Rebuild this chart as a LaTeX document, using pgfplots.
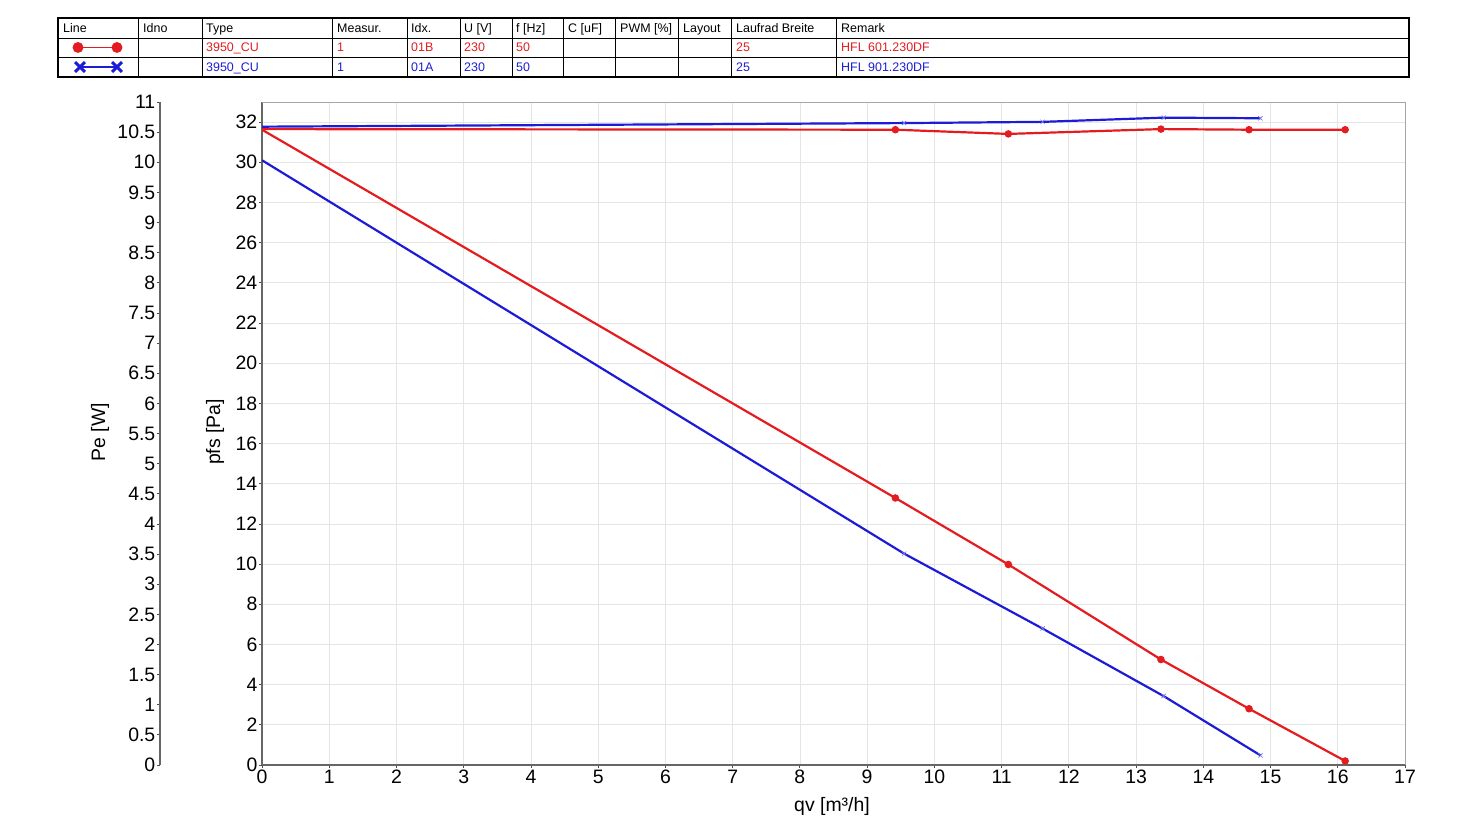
\documentclass[border=0pt]{standalone}
\usepackage{fontspec}
\setmainfont{Liberation Sans}
\usepackage{pgfplots}
\pgfplotsset{compat=1.18}
\definecolor{cred}{RGB}{228,28,32}
\definecolor{cblue}{RGB}{28,28,215}
\definecolor{cbluel}{RGB}{120,120,235}
\newcommand{\tf}{\fontsize{12.5}{14}\selectfont}
\newcommand{\af}{\fontsize{19.5}{21}\selectfont}
\begin{document}
\begin{tikzpicture}[x=1bp,y=1bp]
\path[use as bounding box] (0,0) rectangle (1470,838);
% ---------- header table ----------
\draw[line width=0.8bp] (58,800) -- (1409,800);
\draw[line width=0.8bp] (58,781) -- (1409,781);
\foreach \xx in {138,202,332,407,460,512,563,615,678,731,836}{
  \draw[line width=0.8bp] (\xx,761) -- (\xx,820);
}
\draw[line width=1.6bp] (58,761) rectangle (1409,820);
\foreach \xx/\tt in {63/Line,143/Idno,206/Type,337/Measur.,411/Idx.,464/U [V],516/f [Hz],568/C [uF],620/PWM [\%],683/Layout,736/Laufrad Breite,841/Remark}{
  \node[anchor=base west, inner sep=0, font=\tf] at (\xx,805.5) {\tt};
}
\foreach \xx/\tt in {206/3950\_CU,337/1,411/01B,464/230,516/50,736/25,841/HFL 601.230DF}{
  \node[anchor=base west, inner sep=0, font=\tf, text=cred] at (\xx,786) {\tt};
}
\foreach \xx/\tt in {206/3950\_CU,337/1,411/01A,464/230,516/50,736/25,841/HFL 901.230DF}{
  \node[anchor=base west, inner sep=0, font=\tf, text=cblue] at (\xx,766.5) {\tt};
}
% legend glyphs
\begin{axis}[at={(78bp,790.5bp)}, anchor=origin, scale only axis, width=39bp, height=10bp,
  hide axis, xmin=0, xmax=1, ymin=-1, ymax=1, clip=false]
\addplot[cred, line width=1.8bp, mark=*, mark size=4.5bp] coordinates {(0,0) (1,0)};
\end{axis}
\begin{axis}[at={(80bp,771bp)}, anchor=origin, scale only axis, width=37bp, height=10bp,
  hide axis, xmin=0, xmax=1, ymin=-1, ymax=1, clip=false]
\addplot[cblue, line width=1.8bp, mark=x, mark size=7bp, mark options={line width=3bp}] coordinates {(0,0) (1,0)};
\end{axis}
% ---------- main pfs axis ----------
\begin{axis}[at={(262bp,73bp)}, anchor=south west, scale only axis,
  width=1143bp, height=663bp,
  xmin=0, xmax=17, ymin=0, ymax=33,
  xtick={0,...,17}, ytick={0,2,...,32},
  axis x line*=bottom, axis y line*=left,
  grid=major, grid style={color=black!10, line width=0.7bp},
  axis line style={color=black!60, line width=1.2bp},
  tick align=outside, major tick length=3bp,
  tick style={color=black!70, line width=0.8bp},
  ticklabel style={font=\af},
  /pgf/number format/assume math mode=true,
  yticklabel style={inner sep=1.5bp},
  xticklabel style={inner sep=2bp},
  after end axis/.code={\draw[black!35, line width=0.9bp] (rel axis cs:0,1) -- (rel axis cs:1,1) -- (rel axis cs:1,0);}]
\addplot[cred, line width=2.2bp, mark=*, mark size=2.6bp, mark indices={2,3,4,5,6}]
  coordinates {(0,31.62) (9.42,13.29) (11.10,9.98) (13.37,5.25) (14.68,2.80) (16.11,0.20)};
\addplot[cblue, line width=2.2bp, mark=x, mark size=3bp, mark indices={2,3,4,5},
  mark options={color=cbluel, line width=0.7bp}]
  coordinates {(0,30.10) (9.55,10.52) (11.61,6.79) (13.41,3.43) (14.85,0.48)};
\end{axis}
% ---------- Pe data axis (overlay) ----------
\begin{axis}[at={(262bp,73bp)}, anchor=south west, scale only axis,
  width=1143bp, height=663bp, hide axis,
  xmin=0, xmax=17, ymin=0, ymax=11]
\addplot[cblue, line width=2.2bp, mark=x, mark size=3bp, mark indices={2,3,4,5},
  mark options={color=cbluel, line width=0.7bp}]
  coordinates {(0,10.59) (9.55,10.65) (11.61,10.67) (13.41,10.74) (14.85,10.73)};
\addplot[cred, line width=2.2bp, mark=*, mark size=2.6bp, mark indices={2,3,4,5,6}]
  coordinates {(0,10.55) (9.42,10.54) (11.10,10.47) (13.37,10.55) (14.68,10.54) (16.11,10.54)};
\end{axis}
% ---------- Pe scale axis ----------
\begin{axis}[at={(160bp,73bp)}, anchor=south west, scale only axis,
  width=40bp, height=663bp,
  axis x line=none, axis y line*=left,
  xmin=0, xmax=1, ymin=0, ymax=11,
  ytick={0,0.5,...,11},
  axis line style={color=black!60, line width=1.2bp},
  tick align=outside, major tick length=3bp,
  tick style={color=black!70, line width=0.8bp},
  ticklabel style={font=\af},
  /pgf/number format/assume math mode=true,
  yticklabel style={inner sep=1.5bp}]
\addplot[draw=none] coordinates {(0,0)};
\end{axis}
% ---------- axis labels ----------
\node[rotate=90, font=\af] at (100,406) {Pe [W]};
\node[rotate=90, font=\af] at (215,406) {pfs [Pa]};
\node[font=\af] at (832,32) {qv [m³/h]};
\end{tikzpicture}
\end{document}
